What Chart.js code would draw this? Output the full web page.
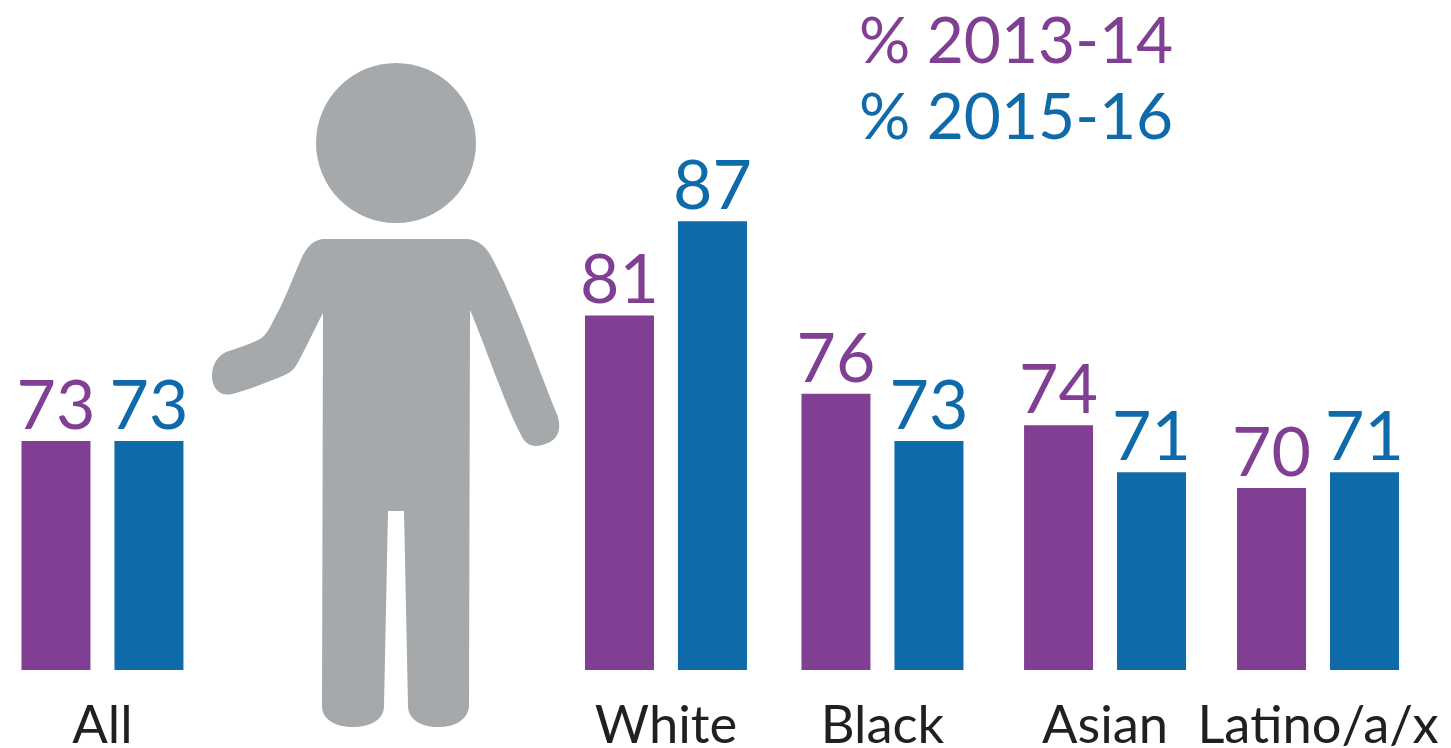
<!DOCTYPE html>
<html>
<head>
<meta charset="utf-8">
<title>Percent by group</title>
<script src="https://cdn.jsdelivr.net/npm/chart.js@4"></script>
<style>
  html, body { margin: 0; padding: 0; background: #fff; }
  canvas { display: block; }
</style>
</head>
<body>
<canvas id="myChart" width="1451" height="748"></canvas>
<script>
const categories = ['All', 'White', 'Black', 'Asian', 'Latino/a/x'];
// the groups are not evenly spaced in the picture (the figure sits after All)
const groupSlots = [0, 2.585, 3.578, 4.599, 5.576];
const values1314 = [73, 81, 76, 74, 70];
const values1516 = [73, 87, 73, 71, 71];
const label1314 = '% 2013-14';
const label1516 = '% 2015-16';

const PURPLE = '#803f92';
const BLUE = '#0f6aa9';
const FONT = 'Lato, "Open Sans", sans-serif';

function toPoints(vals) {
    return vals.map((v, i) => ({ x: groupSlots[i], y: v }));
}

// grey person between All and White
const figurePlugin = {
    id: 'figure',
    beforeDatasetsDraw(chart) {
        const c = chart.ctx;
        c.save();
        c.fillStyle = '#a6a9ac';
        c.beginPath();
        c.arc(396, 143, 80, 0, Math.PI * 2);
        c.fill();
        c.beginPath();
        c.moveTo(323, 239);
        c.lineTo(467, 239);
        c.quadraticCurveTo(482, 240, 491, 256);
        c.bezierCurveTo(515, 300, 535, 360, 556, 412);
        c.bezierCurveTo(562, 425, 560, 438, 548, 443);
        c.bezierCurveTo(535, 449, 526, 446, 521, 435);
        c.bezierCurveTo(503, 400, 487, 350, 470, 310);
        c.lineTo(469, 706);
        c.bezierCurveTo(468, 720, 455, 727, 438, 727);
        c.bezierCurveTo(422, 727, 408, 720, 408, 706);
        c.lineTo(404, 511);
        c.lineTo(388, 511);
        c.lineTo(384, 706);
        c.bezierCurveTo(384, 720, 370, 727, 353, 727);
        c.bezierCurveTo(336, 727, 322, 720, 322, 706);
        c.lineTo(323, 313);
        c.bezierCurveTo(314, 330, 305, 350, 297, 364);
        c.bezierCurveTo(293, 372, 285, 375, 278, 378);
        c.bezierCurveTo(262, 384, 245, 391, 232, 394);
        c.bezierCurveTo(220, 397, 212, 388, 212, 376);
        c.bezierCurveTo(212, 364, 218, 356, 226, 352);
        c.bezierCurveTo(238, 348, 250, 344, 258, 340);
        c.bezierCurveTo(268, 336, 272, 322, 280, 308);
        c.bezierCurveTo(288, 292, 295, 272, 303, 255);
        c.quadraticCurveTo(311, 240, 323, 239);
        c.closePath();
        c.fill();
        c.restore();
    }
};

// numbers above the bars and the two coloured lines at the top
const textPlugin = {
    id: 'texts',
    afterDatasetsDraw(chart) {
        const c = chart.ctx;
        c.save();
        c.textAlign = 'center';
        c.textBaseline = 'alphabetic';
        c.font = '400 68px ' + FONT;
        chart.data.datasets.forEach((ds, d) => {
            c.fillStyle = ds.backgroundColor;
            chart.getDatasetMeta(d).data.forEach((bar, i) => {
                c.fillText(ds.data[i].y, bar.x, bar.y - 12);
            });
        });
        c.textAlign = 'left';
        c.font = '400 64px ' + FONT;
        chart.data.datasets.forEach((ds, d) => {
            c.fillStyle = ds.backgroundColor;
            c.fillText(ds.label, 859, 63 + d * 76);
        });
        c.restore();
    }
};

const myChart = new Chart(document.getElementById('myChart').getContext('2d'), {
    type: 'bar',
    data: {
        datasets: [
            { label: label1314, data: toPoints(values1314), backgroundColor: PURPLE },
            { label: label1516, data: toPoints(values1516), backgroundColor: BLUE }
        ]
    },
    options: {
        responsive: false,
        animation: false,
        layout: { padding: 0 },
        categoryPercentage: 0.873,
        barPercentage: 0.742,
        scales: {
            x: {
                type: 'linear',
                offset: false,
                min: -0.47,
                max: 6.186,
                border: { display: false },
                grid: { display: false, drawTicks: false },
                afterBuildTicks(axis) {
                    axis.ticks = groupSlots.map(v => ({ value: v }));
                },
                afterFit(axis) {
                    axis.height = 78;
                    axis.paddingLeft = 0;
                    axis.paddingRight = 0;
                },
                ticks: {
                    autoSkip: false,
                    maxRotation: 0,
                    padding: 25,
                    color: '#231f20',
                    font: { family: FONT, size: 52.5, weight: '400' },
                    callback: v => categories[groupSlots.indexOf(v)]
                }
            },
            y: {
                display: false,
                min: 58.4,
                max: 101.1
            }
        },
        plugins: {
            legend: { display: false },
            tooltip: { enabled: false }
        }
    },
    plugins: [figurePlugin, textPlugin]
});
</script>
</body>
</html>
